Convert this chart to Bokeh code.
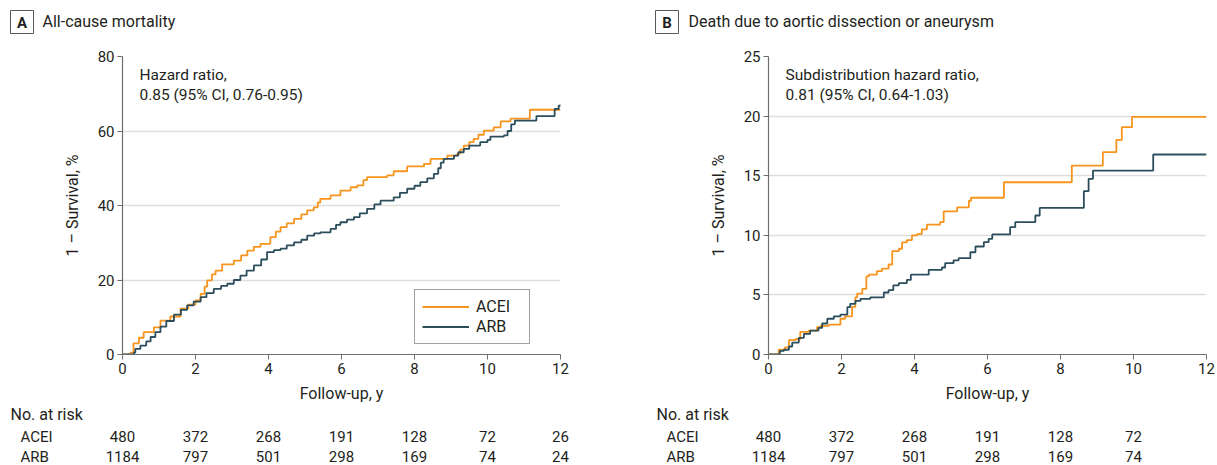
from bokeh.plotting import figure
from bokeh.layouts import row, column
from bokeh.models import Range1d, Legend, LegendItem, FixedTicker
from bokeh.core.properties import value
from bokeh.embed import file_html
from bokeh.resources import INLINE

FONT = "Roboto"
ORANGE = "#F7941D"
TEAL = "#2C4E5C"
TXT = "#231F20"

# ---------------- data ----------------
years_ticks = [0, 2, 4, 6, 8, 10, 12]

# Panel A: all-cause mortality (1 - survival, %)
a_acei_t = [0, 0.22, 0.3, 0.45, 0.58, 0.86, 1.04, 1.31, 1.59, 1.8, 2.0, 2.14, 2.25, 2.32, 2.45, 2.55,
            2.73, 3.05, 3.25, 3.42, 3.6, 3.78, 4.05, 4.2, 4.33, 4.5, 4.7, 4.9, 5.06, 5.24, 5.35, 5.42,
            5.7, 5.97, 6.25, 6.43, 6.6, 6.7, 7.25, 7.43, 7.8, 8.26, 8.44, 8.9, 9.17, 9.25, 9.35, 9.5,
            9.62, 9.75, 9.9, 10.17, 10.36, 10.63, 11.16, 12]
a_acei_y = [0, 0.5, 3.0, 4.5, 6.0, 7.3, 9.1, 10.2, 12.3, 13.4, 14.5, 16.3, 18.2, 19.9, 21.5, 22.5,
            24.2, 25.2, 26.6, 27.9, 28.9, 29.7, 31.5, 33.0, 34.2, 35.2, 36.4, 37.6, 38.7, 39.5, 40.8, 41.8,
            42.7, 44.0, 44.9, 45.4, 46.8, 47.6, 48.1, 49.2, 50.5, 51.2, 52.5, 53.4, 53.9, 55.0, 56.1, 57.0,
            57.9, 59.0, 60.1, 61.0, 62.6, 63.3, 65.7, 65.7]

a_arb_t = [0, 0.31, 0.35, 0.49, 0.65, 0.77, 0.9, 1.04, 1.2, 1.41, 1.6, 1.77, 1.95, 2.14, 2.3, 2.5,
           2.7, 2.87, 3.05, 3.23, 3.4, 3.6, 3.8, 3.96, 4.15, 4.33, 4.5, 4.7, 4.9, 5.06, 5.25, 5.42,
           5.7, 5.85, 5.97, 6.15, 6.34, 6.5, 6.7, 6.9, 7.07, 7.43, 7.6, 7.8, 8.0, 8.16, 8.35, 8.53,
           8.65, 8.72, 8.8, 9.08, 9.2, 9.35, 9.5, 9.8, 10.0, 10.08, 10.45, 10.55, 10.65, 10.75,
           11.34, 11.84, 11.95, 12]
a_arb_y = [0, 0.5, 1.5, 2.4, 3.5, 4.7, 6.0, 7.5, 9.0, 10.7, 12.0, 13.2, 14.2, 15.4, 16.5, 17.6,
           18.4, 19.0, 20.0, 21.2, 22.5, 23.9, 25.5, 27.5, 28.0, 28.4, 29.3, 30.1, 30.8, 31.9, 32.5, 32.8,
           33.7, 34.8, 35.5, 36.2, 36.9, 37.9, 39.1, 40.3, 41.3, 42.2, 43.4, 44.5, 45.3, 46.3, 47.3, 48.5,
           50.0, 51.5, 52.5, 53.4, 54.3, 55.2, 56.1, 57.0, 57.6, 58.5, 58.8, 60.0, 61.8, 62.8,
           64.0, 65.9, 66.8, 67.1]

# Panel B: death due to aortic dissection or aneurysm (cumulative incidence, %)
b_acei_t = [0, 0.28, 0.45, 0.56, 0.75, 0.87, 1.1, 1.33, 1.42, 1.65, 1.97, 2.1, 2.29, 2.38, 2.43, 2.57,
            2.68, 2.75, 2.97, 3.11, 3.29, 3.39, 3.57, 3.66, 3.79, 3.93, 4.07, 4.2, 4.34, 4.7, 4.8,
            5.17, 5.49, 5.55, 6.45, 8.31, 9.16, 9.53, 9.68, 9.96, 12]
b_acei_y = [0, 0.4, 0.6, 1.2, 1.3, 1.9, 2.0, 2.3, 2.4, 2.5, 3.0, 3.2, 4.0, 4.8, 5.1, 5.5,
            6.55, 6.7, 7.0, 7.2, 7.55, 8.67, 8.87, 9.4, 9.6, 10.0, 10.1, 10.5, 10.9, 11.1, 12.0,
            12.35, 12.9, 13.15, 14.45, 15.85, 16.97, 18.0, 19.07, 19.94, 19.94]

b_arb_t = [0, 0.31, 0.42, 0.56, 0.65, 0.83, 0.97, 1.14, 1.37, 1.47, 1.61, 1.79, 1.97, 2.16, 2.24, 2.38,
           2.52, 2.79, 3.16, 3.29, 3.42, 3.57, 3.79, 3.9, 4.39, 4.75, 4.84, 5.07, 5.21, 5.53, 5.67,
           5.9, 6.03, 6.13, 6.62, 6.76, 7.31, 7.43, 8.64, 8.77, 8.89, 10.54, 12]
b_arb_y = [0, 0.3, 0.4, 0.67, 1.0, 1.4, 1.73, 2.0, 2.23, 2.6, 3.0, 3.2, 3.35, 3.97, 4.25, 4.5,
           4.67, 4.8, 5.2, 5.4, 5.8, 5.98, 6.26, 6.7, 7.1, 7.3, 7.66, 7.9, 8.08, 8.58, 9.06,
           9.42, 9.7, 10.07, 10.68, 11.1, 11.66, 12.3, 13.7, 14.74, 15.43, 16.78, 16.78]

acei_at_risk = [480, 372, 268, 191, 128, 72, 26]
arb_at_risk = [1184, 797, 501, 298, 169, 74, 24]
b_ticks_at_risk = [0, 2, 4, 6, 8, 10]
b_acei_at_risk = [480, 372, 268, 191, 128, 72]
b_arb_at_risk = [1184, 797, 501, 298, 169, 74]

# ---------------- layout constants (pixels) ----------------
HEAD_H = 44
MAIN_TOP = 12
FRAME_H = 298
MAIN_BOT = 52
TABLE_H = 465 - HEAD_H - MAIN_TOP - FRAME_H - MAIN_BOT
FRAME_W = 438
PX_PER_YEAR = FRAME_W / 12.0


def blank(width, height, xr, yr):
    f = figure(width=width, height=height, x_range=xr, y_range=yr,
               output_backend="svg", toolbar_location=None,
               x_axis_type=None, y_axis_type=None,
               min_border=0, min_border_left=0, min_border_right=0,
               min_border_top=0, min_border_bottom=0, frame_align=False)
    f.outline_line_color = None
    f.grid.visible = False
    f.background_fill_color = "white"
    f.border_fill_color = "white"
    return f


def txt(f, x, y, t, size="15px", align="left", style="normal"):
    f.text(x=[x], y=[y], text=[t], text_font=value(FONT), text_font_size=size,
           text_align=align, text_baseline="middle", text_color=TXT,
           text_font_style=style)


def make_panel(letter, box_cx, title_x, title, hr1, hr2, ymax, yticks,
               acei_t, acei_y, arb_t, arb_y, risk_ticks, risk_acei, risk_arb,
               width, left, legend, table_left):
    right = width - left - FRAME_W

    # header: panel letter box and title (pixel space, y downward)
    h = blank(width, HEAD_H, Range1d(0, width), Range1d(HEAD_H, 0))
    h.rect(x=[box_cx], y=[21.5], width=23, height=23, fill_color=None,
           line_color="#58595b", line_width=1)
    txt(h, box_cx, 22, letter, size="15px", align="center", style="bold")
    txt(h, title_x, 21, title, size="16px")

    # main chart
    p = figure(width=width, height=MAIN_TOP + FRAME_H + MAIN_BOT,
               x_range=Range1d(0, 12), y_range=Range1d(0, ymax),
               output_backend="svg", toolbar_location=None,
               min_border_left=left, min_border_right=right,
               min_border_top=MAIN_TOP, min_border_bottom=MAIN_BOT, frame_align=False)
    p.outline_line_color = None
    p.background_fill_color = "white"
    p.border_fill_color = "white"
    p.xgrid.visible = False
    p.ygrid.ticker = FixedTicker(ticks=yticks)
    p.ygrid.grid_line_color = "#dedede"
    p.ygrid.grid_line_width = 1.5

    for ax in (p.xaxis[0], p.yaxis[0]):
        ax.axis_line_color = "#6d6e70"
        ax.axis_line_width = 1.2
        ax.major_tick_line_color = "#6d6e70"
        ax.major_tick_in = 0
        ax.major_tick_out = 5
        ax.minor_tick_line_color = None
        ax.major_label_text_font = FONT
        ax.major_label_text_font_size = "15px"
        ax.major_label_text_color = TXT
        ax.axis_label_text_font = FONT
        ax.axis_label_text_font_size = "16px"
        ax.axis_label_text_font_style = "normal"
        ax.axis_label_text_color = TXT
    p.xaxis.ticker = FixedTicker(ticks=years_ticks)
    p.yaxis.ticker = FixedTicker(ticks=yticks)
    p.xaxis.axis_label = "Follow-up, y"
    p.yaxis.axis_label = "1 \u2013 Survival, %"
    p.xaxis.major_label_standoff = 3
    p.yaxis.major_label_standoff = 3
    p.xaxis.axis_label_standoff = 7
    p.yaxis.axis_label_standoff = 13

    r1 = p.step(acei_t, acei_y, mode="after", line_color=ORANGE, line_width=1.8)
    r2 = p.step(arb_t, arb_y, mode="after", line_color=TEAL, line_width=1.8)

    # hazard ratio note, positioned in pixels from the frame's top-left
    ys = ymax / FRAME_H
    xs = 12.0 / FRAME_W
    p.text(x=[17 * xs] * 2, y=[ymax - 18 * ys, ymax - 38 * ys], text=[hr1, hr2],
           text_font=value(FONT), text_font_size="15.5px", text_align="left",
           text_baseline="middle", text_color=TXT)

    if legend:
        leg = Legend(items=[LegendItem(label="ACEI", renderers=[r1]),
                            LegendItem(label="ARB", renderers=[r2])],
                     location=(292, 10), orientation="vertical",
                     glyph_width=47, glyph_height=15, label_height=15, spacing=1,
                     padding=7, label_standoff=7, margin=0, label_width=46,
                     label_text_font=FONT, label_text_font_size="16px",
                     label_text_color=TXT, border_line_color="#414042",
                     border_line_width=1, background_fill_alpha=1)
        p.add_layout(leg, "center")

    # number-at-risk table: x in years (aligned with the chart), y in pixels downward
    x0 = -left / PX_PER_YEAR
    x1 = (width - left) / PX_PER_YEAR
    t = blank(width, TABLE_H, Range1d(x0, x1), Range1d(TABLE_H, 0))
    txt(t, x0 + table_left / PX_PER_YEAR, 8, "No. at risk", size="16px")
    txt(t, x0 + (table_left + 10) / PX_PER_YEAR, 30, "ACEI")
    txt(t, x0 + (table_left + 10) / PX_PER_YEAR, 50, "ARB")
    t.text(x=risk_ticks, y=[30] * len(risk_ticks), text=[str(v) for v in risk_acei],
           text_font=value(FONT), text_font_size="15px", text_align="center",
           text_baseline="middle", text_color=TXT)
    t.text(x=risk_ticks, y=[50] * len(risk_ticks), text=[str(v) for v in risk_arb],
           text_font=value(FONT), text_font_size="15px", text_align="center",
           text_baseline="middle", text_color=TXT)

    return column(h, p, t, spacing=0)


pa = make_panel("A", 21.5, 42, "All-cause mortality", "Hazard ratio,",
                "0.85 (95% CI, 0.76-0.95)", 80, [0, 20, 40, 60, 80],
                a_acei_t, a_acei_y, a_arb_t, a_arb_y,
                years_ticks, acei_at_risk, arb_at_risk, 648, 122, True, 10)
pb = make_panel("B", 18.5, 40, "Death due to aortic dissection or aneurysm",
                "Subdistribution hazard ratio,", "0.81 (95% CI, 0.64-1.03)",
                25, [0, 5, 10, 15, 20, 25], b_acei_t, b_acei_y, b_arb_t, b_arb_y,
                b_ticks_at_risk, b_acei_at_risk, b_arb_at_risk, 569, 120, False, 8)

layout = row(pa, pb, spacing=0)
open("out.html", "w").write(file_html(layout, INLINE))
